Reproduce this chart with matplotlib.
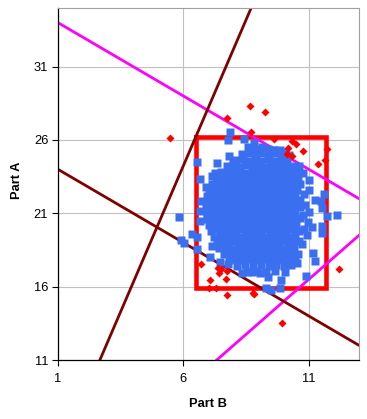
import matplotlib
matplotlib.use("Agg")
import matplotlib.pyplot as plt

plt.rcParams['font.family'] = ['Liberation Sans', 'DejaVu Sans']

# accepted parts (blue squares)
blue_pts = [
    (8.58,25.5),(8.86,25.38),(9.12,25.55),(9.38,25.42),(9.62,25.33),(9.85,25.35),(10.05,25.2),
    (8.32,25.02),(8.61,25.12),(8.88,24.95),(9.14,25.1),(9.41,24.98),(9.68,25.08),(9.93,24.97),(10.2,24.95),
    (8.08,24.62),(8.36,24.7),(8.62,24.58),(8.87,24.72),(9.11,24.6),(9.37,24.68),(9.63,24.55),(9.88,24.7),(10.14,24.6),
    (7.72,24.2),(7.98,24.3),(8.22,24.18),(8.47,24.28),(8.73,24.22),(8.97,24.32),(9.22,24.17),(9.47,24.27),(9.72,24.2),(9.97,24.3),(10.22,24.18),(10.44,24.26),
    (7.5,23.82),(7.76,23.9),(8.02,23.8),(8.26,23.88),(8.51,23.78),(8.76,23.9),(9.01,23.83),(9.26,23.88),(9.51,23.8),(9.76,23.9),(10.01,23.82),(10.26,23.88),(10.5,23.8),
    (7.3,23.42),(7.55,23.5),(7.8,23.4),(8.05,23.48),(8.3,23.43),(8.55,23.5),(8.8,23.4),(9.05,23.47),(9.3,23.42),(9.55,23.5),(9.8,23.4),(10.05,23.46),(10.3,23.42),(10.56,23.48),
    (7.12,23.0),(7.38,23.08),(7.63,23.02),(7.88,23.1),(8.13,23.0),(8.38,23.06),(8.63,23.03),(8.88,23.1),(9.13,23.0),(9.38,23.06),(9.63,23.02),(9.88,23.08),(10.13,23.0),(10.38,23.07),(10.66,23.02),
    (7.02,22.62),(7.28,22.7),(7.53,22.6),(7.78,22.68),(8.03,22.64),(8.28,22.7),(8.53,22.6),(8.78,22.66),(9.03,22.62),(9.28,22.7),(9.53,22.6),(9.78,22.68),(10.03,22.64),(10.28,22.7),(10.53,22.6),
    (6.96,22.2),(7.2,22.3),(7.45,22.22),(7.7,22.28),(7.95,22.2),(8.2,22.27),(8.45,22.22),(8.7,22.3),(8.95,22.2),(9.2,22.26),(9.45,22.22),(9.7,22.3),(9.95,22.2),(10.2,22.28),(10.45,22.22),
    (6.95,21.8),(7.18,21.88),(7.42,21.82),(7.67,21.9),(7.92,21.8),(8.17,21.86),(8.42,21.82),(8.67,21.88),(8.92,21.8),(9.17,21.87),(9.42,21.82),(9.67,21.9),(9.92,21.8),(10.17,21.86),(10.42,21.82),(10.66,21.88),
    (6.9,21.42),(7.15,21.5),(7.4,21.4),(7.65,21.48),(7.9,21.42),(8.15,21.5),(8.4,21.4),(8.65,21.47),(8.9,21.42),(9.15,21.5),(9.4,21.4),(9.65,21.48),(9.9,21.42),(10.15,21.5),(10.4,21.4),(10.64,21.46),
    (6.94,21.02),(7.18,21.1),(7.43,21.0),(7.68,21.08),(7.93,21.02),(8.18,21.1),(8.43,21.0),(8.68,21.06),(8.93,21.02),(9.18,21.1),(9.43,21.0),(9.68,21.08),(9.93,21.02),(10.18,21.08),(10.43,21.0),
    (6.96,20.62),(7.2,20.7),(7.45,20.6),(7.7,20.68),(7.95,20.62),(8.2,20.7),(8.45,20.6),(8.7,20.66),(8.95,20.62),(9.2,20.7),(9.45,20.6),(9.7,20.68),(9.95,20.62),(10.2,20.7),(10.45,20.6),(10.66,20.68),
    (7.0,20.22),(7.25,20.3),(7.5,20.2),(7.75,20.28),(8.0,20.22),(8.25,20.3),(8.5,20.2),(8.75,20.27),(9.0,20.22),(9.25,20.3),(9.5,20.2),(9.75,20.28),(10.0,20.22),(10.25,20.3),(10.5,20.2),
    (7.1,19.82),(7.35,19.9),(7.6,19.8),(7.85,19.88),(8.1,19.82),(8.35,19.9),(8.6,19.8),(8.85,19.87),(9.1,19.82),(9.35,19.9),(9.6,19.8),(9.85,19.88),(10.1,19.82),(10.35,19.9),(10.6,19.8),
    (7.2,19.42),(7.45,19.5),(7.7,19.4),(7.95,19.48),(8.2,19.42),(8.45,19.5),(8.7,19.4),(8.95,19.47),(9.2,19.42),(9.45,19.5),(9.7,19.4),(9.95,19.48),(10.2,19.42),(10.45,19.5),
    (7.32,19.02),(7.57,19.1),(7.82,19.0),(8.07,19.08),(8.32,19.02),(8.57,19.1),(8.82,19.0),(9.07,19.06),(9.32,19.02),(9.57,19.1),(9.82,19.0),(10.07,19.08),(10.32,19.02),(10.6,19.08),
    (7.42,18.62),(7.67,18.7),(7.92,18.6),(8.17,18.68),(8.42,18.62),(8.67,18.7),(8.92,18.6),(9.17,18.66),(9.42,18.62),(9.67,18.7),(9.92,18.6),(10.17,18.68),(10.42,18.62),
    (7.6,18.22),(7.85,18.3),(8.1,18.2),(8.35,18.28),(8.6,18.22),(8.85,18.3),(9.1,18.2),(9.35,18.27),(9.6,18.22),(9.85,18.3),(10.1,18.2),(10.35,18.28),(10.55,18.2),
    (7.8,17.82),(8.08,17.9),(8.35,17.8),(8.62,17.88),(8.9,17.82),(9.18,17.9),(9.45,17.8),(9.72,17.88),(10.0,17.82),(10.28,17.9),(10.45,17.8),
    (8.12,17.42),(8.45,17.5),(8.78,17.4),(9.1,17.48),(9.4,17.42),(9.7,17.5),(10.0,17.4),(10.3,17.46),
    (8.55,17.02),(8.95,17.1),(9.3,17.0),(9.65,17.08),(10.05,17.02),
    # loose ones round the edge
    (7.85,26.55),(7.76,26.03),(8.41,26.07),(8.81,25.79),(9.58,25.34),(6.53,24.48),(7.35,24.43),(7.81,24.9),
    (7.96,24.57),(6.66,23.34),(7.12,23.57),(7.25,23.75),(6.9,22.8),(6.72,21.82),(6.66,21.13),(6.66,20.45),
    (5.82,20.74),(5.89,19.2),(6.02,19.01),(6.33,19.58),(6.53,19.38),(6.55,18.58),(7.12,18.74),(7.06,18.01),
    (7.45,17.65),(7.79,17.53),(8.32,16.92),(8.72,17.03),(9.05,16.96),(9.38,16.69),(9.29,15.94),(9.49,15.78),
    (9.91,16.46),(9.84,15.94),(10.51,17.6),(10.87,16.75),(11.17,18.29),(11.24,17.78),(10.91,19.54),(11.11,20.06),
    (11.51,19.65),(11.53,20.15),(11.74,20.79),(12.14,20.86),(11.51,21.36),(11.48,21.86),(11.6,22.31),(11.24,21.93),
    (11.01,21.06),(10.95,20.38),(11.0,22.61),(11.0,23.3),(10.77,23.75),(10.61,24.2),
    (10.82,22.3),(10.85,21.6),(10.78,20.9),(10.8,19.9),(10.72,18.9),
]

# rejected parts (red diamonds)
red_x = [8.65, 9.27, 7.75, 8.70, 5.47, 9.62, 10.31, 10.50, 10.18, 10.75, 10.11, 10.34, 11.74, 11.37, 11.64,
         12.21, 6.70, 7.39, 7.49, 7.72, 7.43, 7.04, 7.70, 7.03, 7.31, 7.75, 8.76, 8.82, 9.94]
red_y = [28.33, 27.92, 27.51, 26.55, 26.14, 26.05, 25.90, 25.73, 25.45, 25.28, 25.04, 24.90, 25.41, 24.34, 24.66,
         17.20, 17.57, 17.30, 17.19, 17.04, 16.92, 16.48, 16.50, 15.93, 15.93, 15.42, 15.58, 15.52, 13.50]

# constraint lines
mag1_x = [1, 13];    mag1_y = [34, 22]
mag2_x = [7.33, 13]; mag2_y = [11, 19.5]
dr1_x = [1, 13];     dr1_y = [24, 12]
dr2_x = [2.67, 8.7]; dr2_y = [11, 35]
# spec box
box_x = [6.52, 11.67, 11.67, 6.52, 6.52]
box_y = [26.18, 26.18, 15.9, 15.9, 26.18]

fig = plt.figure(figsize=(3.67, 4.19), dpi=100)
ax = fig.add_axes([58/367, 59/419, 301/367, 352/419])

ax.plot(box_x, box_y, color="#ff0000", lw=3.3, solid_joinstyle="miter", zorder=2)
ax.plot(mag1_x, mag1_y, color="#ff00ff", lw=2.0, zorder=2)
ax.plot(mag2_x, mag2_y, color="#ff00ff", lw=2.0, zorder=2)
ax.plot(dr1_x, dr1_y, color="#800000", lw=2.0, zorder=2)
ax.plot(dr2_x, dr2_y, color="#800000", lw=2.0, zorder=2)

bx = [p[0] for p in blue_pts]
by = [p[1] for p in blue_pts]
ax.plot(bx, by, ls="none", marker="s", ms=5.8, mfc="#3a6ff0", mec="none", zorder=3)
ax.plot(red_x, red_y, ls="none", marker="D", ms=3.9, mfc="#ff0000", mec="none", zorder=4)

ax.set_xlim(1, 13); ax.set_ylim(11, 35)
ax.set_xticks([1, 6, 11]); ax.set_yticks([11, 16, 21, 26, 31])
ax.grid(color="#c0c0c0", lw=0.8, zorder=0)
ax.set_axisbelow(True)
ax.tick_params(direction="out", length=4, width=0.8, labelsize=9.3, colors="black", pad=3)
ax.tick_params(axis="x", pad=5)
for s in ["top", "right"]:
    ax.spines[s].set_color("#a0a0a0"); ax.spines[s].set_linewidth(0.8)
for s in ["left", "bottom"]:
    ax.spines[s].set_color("black"); ax.spines[s].set_linewidth(0.9)

fig.text(207.5/367, (419-407)/419, "Part B", ha="center", va="baseline", fontsize=9.3, fontweight="bold")
fig.text(17.2/367, (419-180)/419, "Part A", ha="center", va="center", rotation=90, fontsize=9.3, fontweight="bold")

fig.savefig("out.png", dpi=100, facecolor="white")
